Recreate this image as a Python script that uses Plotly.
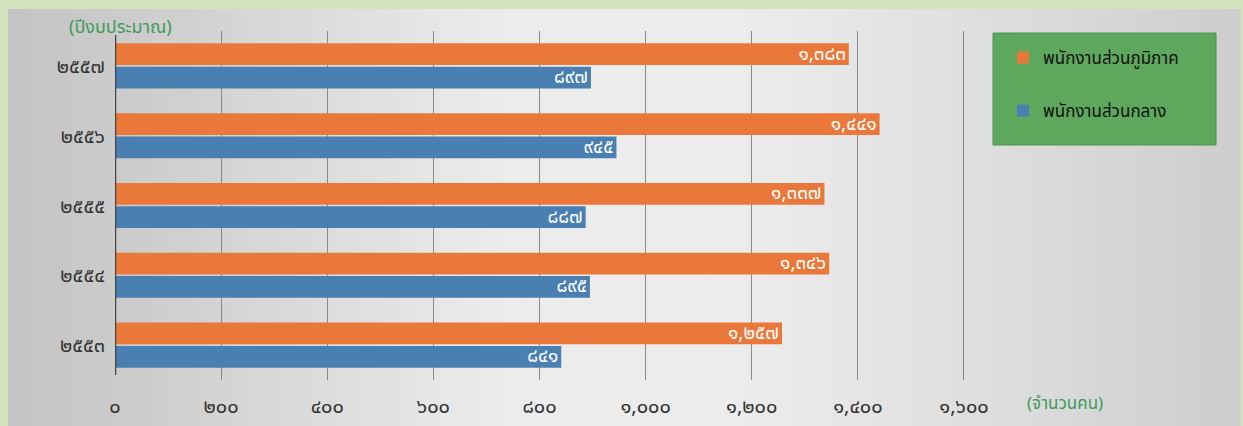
import plotly.graph_objects as go

# ---- data ----
years = ["๒๕๕๓", "๒๕๕๔", "๒๕๕๕", "๒๕๕๖", "๒๕๕๗"]          # bottom -> top
regional = [1257, 1346, 1337, 1441, 1383]                     # พนักงานส่วนภูมิภาค
central = [841, 895, 887, 945, 897]                           # พนักงานส่วนกลาง
tick_vals = [0, 200, 400, 600, 800, 1000, 1200, 1400, 1600]
tick_text = ["๐", "๒๐๐", "๔๐๐", "๖๐๐", "๘๐๐", "๑,๐๐๐", "๑,๒๐๐", "๑,๔๐๐", "๑,๖๐๐"]
name_regional = "พนักงานส่วนภูมิภาค"
name_central = "พนักงานส่วนกลาง"
y_title = "(ปีงบประมาณ)"
x_title = "(จำนวนคน)"

THAI = str.maketrans("0123456789", "๐๑๒๓๔๕๖๗๘๙")


def thai_num(v):
    return f"{v:,}".translate(THAI)


FONT = "Noto Sans Thai, Loma, Garuda, Tahoma, DejaVu Sans, sans-serif"

W, H = 1243, 426
PL, PR, PT, PB = 115, 964, 31, 380   # plot area in pixels


def px2x(px):
    return (px - PL) / (PR - PL)


def py2y(py):
    return (PB - py) / (PB - PT)


fig = go.Figure()
fig.add_trace(go.Bar(
    y=years, x=central, orientation="h", name=name_central,
    marker=dict(color="#4a7fb1", line=dict(width=0)),
    text=[thai_num(v) for v in central], textposition="inside",
    insidetextanchor="end", textfont=dict(color="white", size=19, family=FONT),
    legendrank=2, legendgroup="c",
))
fig.add_trace(go.Bar(
    y=years, x=regional, orientation="h", name=name_regional,
    marker=dict(color="#ea783a", line=dict(width=0)),
    text=[thai_num(v) for v in regional], textposition="inside",
    insidetextanchor="end", textfont=dict(color="white", size=19, family=FONT),
    legendrank=1, legendgroup="r",
))

# background: light green frame + gray gradient panel
shapes = []
shapes.append(dict(type="rect", xref="paper", yref="paper",
                   x0=px2x(0), x1=px2x(W), y0=py2y(H), y1=py2y(0),
                   fillcolor="#d3e3bd", line=dict(width=0), layer="below"))
n = 60
x_start, x_end = 8, 1240
stops = [(0.0, (196, 196, 196)), (0.1, (204, 204, 204)), (0.4, (236, 236, 236)),
         (0.6, (236, 236, 236)), (0.85, (218, 218, 218)), (1.0, (205, 205, 205))]


def interp(t):
    for (t0, c0), (t1, c1) in zip(stops[:-1], stops[1:]):
        if t0 <= t <= t1:
            f = (t - t0) / (t1 - t0) if t1 > t0 else 0
            return tuple(int(round(a + (b - a) * f)) for a, b in zip(c0, c1))
    return stops[-1][1]


for i in range(n):
    a = x_start + (x_end - x_start) * i / n
    b = x_start + (x_end - x_start) * (i + 1) / n + 0.6
    c = interp((i + 0.5) / n)
    shapes.append(dict(type="rect", xref="paper", yref="paper",
                       x0=px2x(a), x1=px2x(b), y0=py2y(H), y1=py2y(9),
                       fillcolor="rgb(%d,%d,%d)" % c, line=dict(width=0), layer="below"))
# legend box
shapes.append(dict(type="rect", xref="paper", yref="paper",
                   x0=px2x(993), x1=px2x(1216), y0=py2y(145), y1=py2y(33),
                   fillcolor="#5ea85e", line=dict(color="#4e944e", width=1), layer="below"))

fig.update_layout(
    width=W, height=H,
    margin=dict(l=PL, r=W - PR, t=PT, b=H - PB, pad=0, autoexpand=False),
    paper_bgcolor="#d3e3bd", plot_bgcolor="rgba(0,0,0,0)",
    barmode="group", bargap=0.33, bargroupgap=0.07,
    uniformtext=dict(minsize=19, mode="show"),
    font=dict(family=FONT, color="#333333"),
    shapes=shapes,
    showlegend=True,
    legend=dict(x=px2x(1003), y=py2y(40), xanchor="left", yanchor="top",
                bgcolor="rgba(0,0,0,0)", borderwidth=0,
                font=dict(size=17, color="#111111", family=FONT),
                tracegroupgap=28, itemwidth=30),
    xaxis=dict(range=[0, 1600], tickvals=tick_vals, ticktext=tick_text,
               showgrid=True, gridcolor="#8a8a8a", gridwidth=1,
               zeroline=False, showline=False, ticks="", automargin=False,
               tickfont=dict(size=20, color="#333333", family=FONT),
               ticklabelstandoff=12, fixedrange=True),
    yaxis=dict(type="category", categoryorder="array", categoryarray=years,
               showgrid=False, zeroline=False, showline=False, ticks="", automargin=False,
               tickfont=dict(size=20, color="#333333", family=FONT),
               ticklabelstandoff=9, fixedrange=True),
    annotations=[
        dict(text=y_title, xref="paper", yref="paper", x=px2x(120), y=py2y(27),
             xanchor="center", yanchor="middle", showarrow=False,
             font=dict(size=18, color="#3f9a5a", family=FONT)),
        dict(text=x_title, xref="paper", yref="paper", x=px2x(1065), y=py2y(404),
             xanchor="center", yanchor="middle", showarrow=False,
             font=dict(size=17, color="#3f9a5a", family=FONT)),
    ],
)
# left axis line and last gridline at the range end
fig.add_shape(type="line", xref="x", yref="paper", x0=0, x1=0, y0=py2y(375), y1=py2y(35),
              line=dict(color="#444444", width=2.5))
fig.add_shape(type="line", xref="x", yref="paper", x0=tick_vals[-1], x1=tick_vals[-1],
              y0=0, y1=1, line=dict(color="#6a6a6a", width=1.5), layer="below")

fig.write_html("out.html", config={"displayModeBar": False},
               post_script="document.body.style.margin='0';document.body.style.overflow='hidden';")
